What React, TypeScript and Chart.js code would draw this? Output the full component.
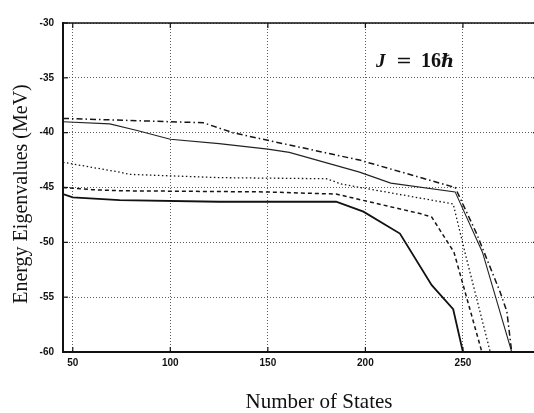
import React, { useEffect, useRef } from "react";
import { Chart, registerables } from "chart.js";

Chart.register(...registerables);

// Axis ranges & ticks
const X_MIN = 45;
const X_MAX = 289.5;
const Y_MIN = -60;
const Y_MAX = -30;
const X_TICKS = [50, 100, 150, 200, 250];
const Y_TICKS = [-60, -55, -50, -45, -40, -35, -30];

// Series (Number of States, Energy MeV)
const dashDotX = [45, 100, 117, 132, 150, 197, 246, 257, 269, 272.5, 275];
const dashDotY = [-38.7, -39.0, -39.1, -40.0, -40.7, -42.5, -45.0, -49.2, -54.5, -56.3, -60];

const thinSolidX = [45, 69, 83, 100, 125, 150, 161, 197, 213, 246, 260, 275];
const thinSolidY = [-39.0, -39.2, -39.8, -40.6, -41.0, -41.5, -41.8, -43.6, -44.6, -45.4, -50.9, -60];

const dottedX = [45, 74, 79, 125, 180, 188, 245, 251, 264];
const dottedY = [-42.7, -43.6, -43.8, -44.1, -44.2, -44.7, -46.5, -50.9, -60];

const dashedX = [45, 60, 75, 148, 185, 228.5, 234, 245.4, 259.7];
const dashedY = [-45.0, -45.2, -45.3, -45.4, -45.6, -47.4, -47.7, -50.9, -60];

const solidX = [45, 50, 74, 125, 185, 199, 217.7, 234, 245, 250];
const solidY = [-45.6, -45.9, -46.15, -46.3, -46.3, -47.2, -49.2, -53.9, -56.1, -60];

const X_TITLE = "Number of States";
const Y_TITLE = "Energy Eigenvalues (MeV)";
const ANNOT_X = 205.4;
const ANNOT_Y = -34.0;

const pts = (xs: number[], ys: number[]) => xs.map((x, i) => ({ x, y: ys[i] }));

const decorPlugin = {
  id: "decor",
  afterDatasetsDraw(chart: any) {
    const { ctx, chartArea: a, scales } = chart;
    const xs = scales.x;
    const ys = scales.y;
    const line = (x1: number, y1: number, x2: number, y2: number) => {
      ctx.beginPath();
      ctx.moveTo(x1, y1);
      ctx.lineTo(x2, y2);
      ctx.stroke();
    };
    ctx.save();
    ctx.setLineDash([]);
    ctx.strokeStyle = "#111";
    ctx.lineWidth = 1.5;
    line(a.left, a.top, a.right, a.top);
    line(a.right, a.top, a.right, a.bottom);
    ctx.lineWidth = 2;
    line(a.left, a.top - 1, a.left, a.bottom + 1);
    line(a.left, a.bottom, a.right, a.bottom);
    ctx.lineWidth = 1.2;
    for (const v of Y_TICKS) {
      const py = ys.getPixelForValue(v);
      line(a.left, py, a.left + 5, py);
      line(a.right, py, a.right - 7, py);
    }
    for (const v of X_TICKS) {
      const px = xs.getPixelForValue(v);
      line(px, a.bottom, px, a.bottom - 5);
      line(px, a.top, px, a.top + 5);
    }
    // annotation J = 16ħ
    const ax = xs.getPixelForValue(ANNOT_X);
    const ay = ys.getPixelForValue(ANNOT_Y);
    ctx.fillStyle = "#111";
    ctx.textBaseline = "alphabetic";
    ctx.textAlign = "left";
    ctx.font = 'bold italic 19px "Liberation Serif", "DejaVu Serif", serif';
    ctx.fillText("J", ax, ay);
    ctx.font = '19px "DejaVu Serif", serif';
    ctx.fillText("=", ax + 20, ay);
    ctx.font = 'bold 20px "Liberation Serif", serif';
    ctx.fillText("16", ax + 45, ay);
    ctx.font = 'bold italic 18px "DejaVu Serif", serif';
    ctx.fillText("\u210F", ax + 65, ay);
    // axis titles
    ctx.textAlign = "center";
    ctx.textBaseline = "middle";
    ctx.font = '21px "Liberation Serif", serif';
    ctx.fillText(X_TITLE, 311, 394);
    ctx.font = '20px "Liberation Serif", serif';
    ctx.translate(14, 186);
    ctx.rotate(-Math.PI / 2);
    ctx.fillText(Y_TITLE, 0, 0);
    ctx.restore();
  },
};

export default function App() {
  const ref = useRef<HTMLCanvasElement | null>(null);
  useEffect(() => {
    if (!ref.current) return;
    const mk = (label: string, xs: number[], ys: number[], width: number, dash: number[], color: string) => ({
      label,
      data: pts(xs, ys),
      borderColor: color,
      borderWidth: width,
      borderDash: dash,
      pointRadius: 0,
      tension: 0,
      fill: false,
    });
    const chart = new Chart(ref.current, {
      type: "line",
      data: {
        datasets: [
          mk("dash-dot", dashDotX, dashDotY, 1.5, [6, 3, 1.5, 3], "#151515"),
          mk("thin", thinSolidX, thinSolidY, 1.1, [], "#222"),
          mk("dotted", dottedX, dottedY, 1.3, [1.5, 2.5], "#151515"),
          mk("dashed", dashedX, dashedY, 1.5, [4, 3], "#151515"),
          mk("solid", solidX, solidY, 1.8, [], "#111"),
        ],
      },
      options: {
        responsive: false,
        animation: false,
        devicePixelRatio: 1,
        layout: { padding: { top: 6, right: 0, left: 0, bottom: 0 }, autoPadding: false },
        plugins: { legend: { display: false }, tooltip: { enabled: false }, title: { display: false } },
        scales: {
          x: {
            type: "linear",
            min: X_MIN,
            max: X_MAX,
            afterBuildTicks: (s: any) => {
              s.ticks = X_TICKS.map((v) => ({ value: v }));
            },
            afterFit: (s: any) => {
              s.height = 61;
            },
            grid: { color: "rgba(40,40,40,0.75)", lineWidth: 1, drawTicks: false },
            border: { display: false, dash: [1, 2] },
            ticks: {
              color: "#111",
              padding: 5,
              maxRotation: 0,
              autoSkip: false,
              font: { family: '"Liberation Sans", Arial, sans-serif', size: 10, weight: "bold" },
            },
          },
          y: {
            type: "linear",
            min: Y_MIN,
            max: Y_MAX,
            afterBuildTicks: (s: any) => {
              s.ticks = Y_TICKS.map((v) => ({ value: v }));
            },
            afterFit: (s: any) => {
              s.width = 55;
            },
            grid: { color: "rgba(40,40,40,0.75)", lineWidth: 1, drawTicks: false },
            border: { display: false, dash: [1, 2] },
            ticks: {
              color: "#111",
              padding: 9,
              autoSkip: false,
              font: { family: '"Liberation Sans", Arial, sans-serif', size: 10, weight: "bold" },
            },
          },
        },
      },
      plugins: [decorPlugin],
    } as any);
    return () => chart.destroy();
  }, []);
  return (
    <div
      style={{
        position: "absolute",
        left: 8,
        top: 8,
        width: 526,
        height: 405,
        overflow: "hidden",
        background: "#fff",
      }}
    >
      <canvas ref={ref} width={532} height={405} style={{ display: "block" }} />
    </div>
  );
}
